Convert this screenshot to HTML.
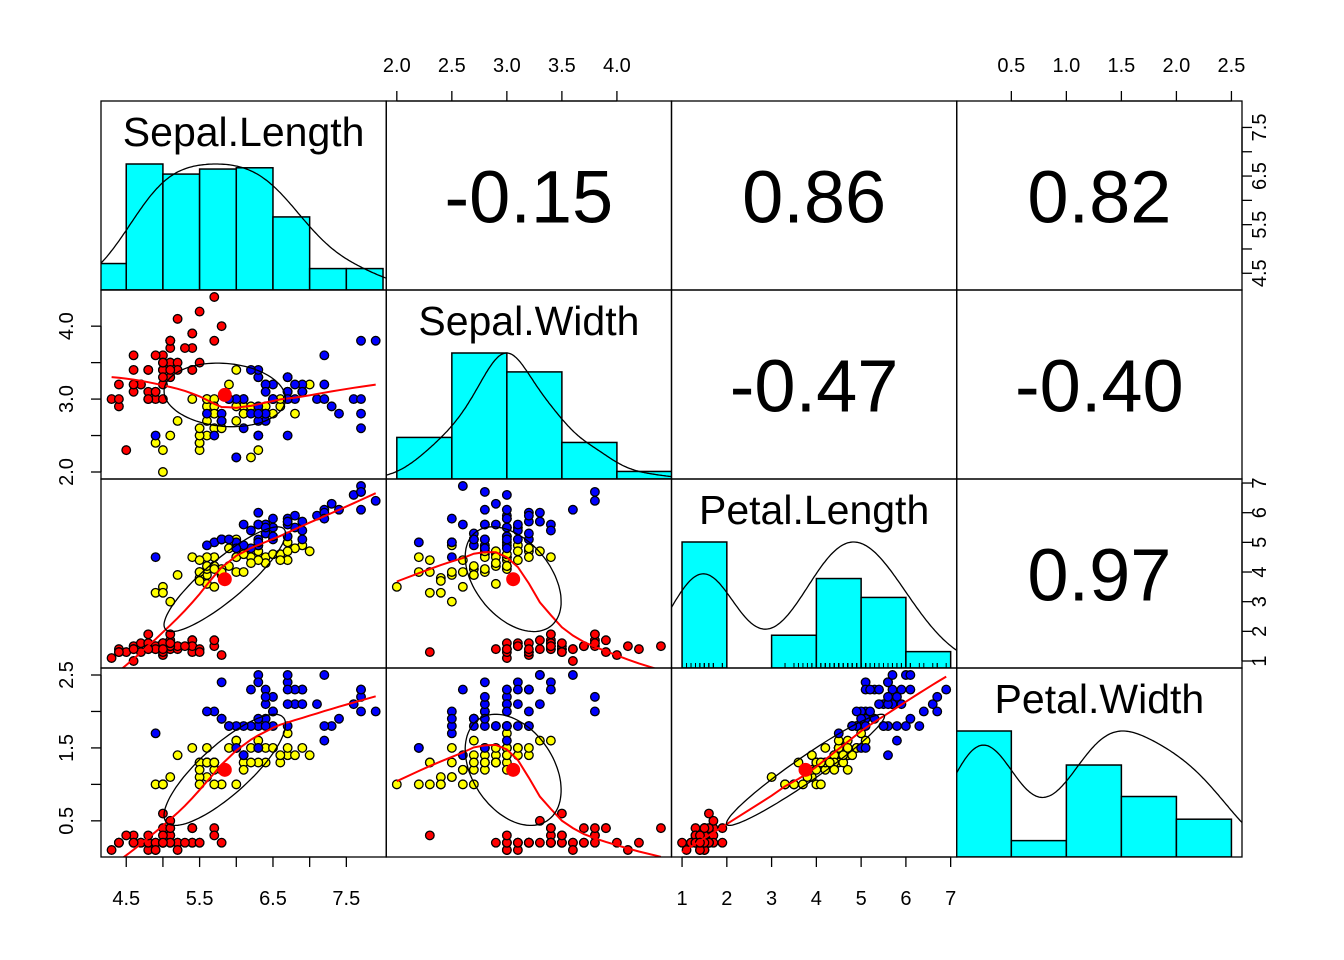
<!DOCTYPE html>
<html><head><meta charset="utf-8">
<style>
html,body{margin:0;padding:0;background:#fff;}
svg{display:block;font-family:"Liberation Sans",Arial,sans-serif;}
</style></head>
<body>
<svg id="chart" width="1344" height="960" viewBox="0 0 1344 960" xmlns="http://www.w3.org/2000/svg"></svg>
<script>
// ---- data (iris) ----
const sepalLength=[5.1,4.9,4.7,4.6,5.0,5.4,4.6,5.0,4.4,4.9,5.4,4.8,4.8,4.3,5.8,5.7,5.4,5.1,5.7,5.1,5.4,5.1,4.6,5.1,4.8,5.0,5.0,5.2,5.2,4.7,4.8,5.4,5.2,5.5,4.9,5.0,5.5,4.9,4.4,5.1,5.0,4.5,4.4,5.0,5.1,4.8,5.1,4.6,5.3,5.0,
7.0,6.4,6.9,5.5,6.5,5.7,6.3,4.9,6.6,5.2,5.0,5.9,6.0,6.1,5.6,6.7,5.6,5.8,6.2,5.6,5.9,6.1,6.3,6.1,6.4,6.6,6.8,6.7,6.0,5.7,5.5,5.5,5.8,6.0,5.4,6.0,6.7,6.3,5.6,5.5,5.5,6.1,5.8,5.0,5.6,5.7,5.7,6.2,5.1,5.7,
6.3,5.8,7.1,6.3,6.5,7.6,4.9,7.3,6.7,7.2,6.5,6.4,6.8,5.7,5.8,6.4,6.5,7.7,7.7,6.0,6.9,5.6,7.7,6.3,6.7,7.2,6.2,6.1,6.4,7.2,7.4,7.9,6.4,6.3,6.1,7.7,6.3,6.4,6.0,6.9,6.7,6.9,5.8,6.8,6.7,6.7,6.3,6.5,6.2,5.9];
const sepalWidth=[3.5,3.0,3.2,3.1,3.6,3.9,3.4,3.4,2.9,3.1,3.7,3.4,3.0,3.0,4.0,4.4,3.9,3.5,3.8,3.8,3.4,3.7,3.6,3.3,3.4,3.0,3.4,3.5,3.4,3.2,3.1,3.4,4.1,4.2,3.1,3.2,3.5,3.6,3.0,3.4,3.5,2.3,3.2,3.5,3.8,3.0,3.8,3.2,3.7,3.3,
3.2,3.2,3.1,2.3,2.8,2.8,3.3,2.4,2.9,2.7,2.0,3.0,2.2,2.9,2.9,3.1,3.0,2.7,2.2,2.5,3.2,2.8,2.5,2.8,2.9,3.0,2.8,3.0,2.9,2.6,2.4,2.4,2.7,2.7,3.0,3.4,3.1,2.3,3.0,2.5,2.6,3.0,2.6,2.3,2.7,3.0,2.9,2.9,2.5,2.8,
3.3,2.7,3.0,2.9,3.0,3.0,2.5,2.9,2.5,3.6,3.2,2.7,3.0,2.5,2.8,3.2,3.0,3.8,2.6,2.2,3.2,2.8,2.8,2.7,3.3,3.2,2.8,3.0,2.8,3.0,2.8,3.8,2.8,2.8,2.6,3.0,3.4,3.1,3.0,3.1,3.1,3.1,2.7,3.2,3.3,3.0,2.5,3.0,3.4,3.0];
const petalLength=[1.4,1.4,1.3,1.5,1.4,1.7,1.4,1.5,1.4,1.5,1.5,1.6,1.4,1.1,1.2,1.5,1.3,1.4,1.7,1.5,1.7,1.5,1.0,1.7,1.9,1.6,1.6,1.5,1.4,1.6,1.6,1.5,1.5,1.4,1.5,1.2,1.3,1.4,1.3,1.5,1.3,1.3,1.3,1.6,1.9,1.4,1.6,1.4,1.5,1.4,
4.7,4.5,4.9,4.0,4.6,4.5,4.7,3.3,4.6,3.9,3.5,4.2,4.0,4.7,3.6,4.4,4.5,4.1,4.5,3.9,4.8,4.0,4.9,4.7,4.3,4.4,4.8,5.0,4.5,3.5,3.8,3.7,3.9,5.1,4.5,4.5,4.7,4.4,4.1,4.0,4.4,4.6,4.0,3.3,4.2,4.2,4.2,4.3,3.0,4.1,
6.0,5.1,5.9,5.6,5.8,6.6,4.5,6.3,5.8,6.1,5.1,5.3,5.5,5.0,5.1,5.3,5.5,6.7,6.9,5.0,5.7,4.9,6.7,4.9,5.7,6.0,4.8,4.9,5.6,5.8,6.1,6.4,5.6,5.1,5.6,6.1,5.6,5.5,4.8,5.4,5.6,5.1,5.1,5.9,5.7,5.2,5.0,5.2,5.4,5.1];
const petalWidth=[0.2,0.2,0.2,0.2,0.2,0.4,0.3,0.2,0.2,0.1,0.2,0.2,0.1,0.1,0.2,0.4,0.4,0.3,0.3,0.3,0.2,0.4,0.2,0.5,0.2,0.2,0.4,0.2,0.2,0.2,0.2,0.4,0.1,0.2,0.2,0.2,0.2,0.1,0.2,0.2,0.3,0.3,0.2,0.6,0.4,0.3,0.2,0.2,0.2,0.2,
1.4,1.5,1.5,1.3,1.5,1.3,1.6,1.0,1.3,1.4,1.0,1.5,1.0,1.4,1.3,1.4,1.5,1.0,1.5,1.1,1.8,1.3,1.5,1.2,1.3,1.4,1.4,1.7,1.5,1.0,1.1,1.0,1.2,1.6,1.5,1.6,1.5,1.3,1.3,1.3,1.2,1.4,1.2,1.0,1.3,1.2,1.3,1.3,1.1,1.3,
2.5,1.9,2.1,1.8,2.2,2.1,1.7,1.8,1.8,2.5,2.0,1.9,2.1,2.0,2.4,2.3,1.8,2.2,2.3,1.5,2.3,2.0,2.0,1.8,2.1,1.8,1.8,1.8,2.1,1.6,1.9,2.0,2.2,1.5,1.4,2.3,2.4,1.8,1.8,2.1,2.4,2.3,1.9,2.3,2.5,2.3,1.9,2.0,2.3,1.8];
const speciesColors=["#FF0000","#FFFF00","#0000FF"];
const varNames=["Sepal.Length","Sepal.Width","Petal.Length","Petal.Width"];
const correlations=[["-0.15","0.86","0.82"],["-0.47","-0.40"],["0.97"]];
// histogram breaks and relative bar heights (max = 1)
const histBreaks=[[4,4.5,5,5.5,6,6.5,7,7.5,8],[2,2.5,3,3.5,4,4.5],[1,2,3,4,5,6,7],[0,0.5,1,1.5,2,2.5]];
const histHeights=[[0.21,1.0,0.92,0.96,0.97,0.58,0.17,0.17],[0.33,1.0,0.85,0.29,0.06],[1.0,0,0.26,0.71,0.56,0.13],[1.0,0.13,0.73,0.48,0.30]];
// axis ticks
const tickSL=[4.5,5,5.5,6,6.5,7,7.5], labSL=[4.5,5.5,6.5,7.5];
const tickSW=[2,2.5,3,3.5,4];
const tickPL=[1,2,3,4,5,6,7];
const tickPW=[0.5,1,1.5,2,2.5];
const bwAdjust=[1.6,1.4,1.25,1.2];

const vars=[sepalLength,sepalWidth,petalLength,petalWidth];
const N=150;
const svg=document.getElementById('chart');
const NS="http://www.w3.org/2000/svg";
function mk(tag,attrs,parent){const e=document.createElementNS(NS,tag);for(const k in attrs)e.setAttribute(k,attrs[k]);(parent||svg).appendChild(e);return e;}
const PX0=101,PY0=101,PW=285.25,PH=189;
const ranges=vars.map(v=>{const mn=Math.min(...v),mx=Math.max(...v),p=(mx-mn)*0.04;return[mn-p,mx+p];});
function sx(vi,col,val){const r=ranges[vi];return PX0+col*PW+(val-r[0])/(r[1]-r[0])*PW;}
function sy(vi,row,val){const r=ranges[vi];return PY0+(row+1)*PH-(val-r[0])/(r[1]-r[0])*PH;}
const mean=a=>a.reduce((s,x)=>s+x,0)/a.length;
const sd=a=>{const m=mean(a);return Math.sqrt(a.reduce((s,x)=>s+(x-m)*(x-m),0)/(a.length-1));};
function corr(a,b){const ma=mean(a),mb=mean(b);let s=0;for(let i=0;i<a.length;i++)s+=(a[i]-ma)*(b[i]-mb);return s/(a.length-1)/sd(a)/sd(b);}

function lowess(x,y,f=2/3,iter=3){
  const idx=x.map((v,i)=>i).sort((a,b)=>x[a]-x[b]);
  const xs=idx.map(i=>x[i]),ys=idx.map(i=>y[i]);const n=xs.length;
  const ns=Math.max(2,Math.min(n,Math.floor(f*n+1e-7)));
  let rw=new Array(n).fill(1),fit=new Array(n).fill(0);
  for(let it=0;it<=iter;it++){
    for(let i=0;i<n;i++){
      const d=xs.map(v=>Math.abs(v-xs[i]));const sd2=d.slice().sort((a,b)=>a-b);
      let h=sd2[ns-1];if(h<=0)h=1e-9;
      let sw=0,swx=0,swy=0,swxx=0,swxy=0;
      for(let j=0;j<n;j++){let u=d[j]/h;let w=0;if(u<0.999){w=Math.pow(1-u*u*u,3);}w*=rw[j];
        sw+=w;swx+=w*xs[j];swy+=w*ys[j];swxx+=w*xs[j]*xs[j];swxy+=w*xs[j]*ys[j];}
      if(sw<=0){fit[i]=ys[i];continue;}
      const mx=swx/sw,my=swy/sw,vx=swxx/sw-mx*mx;
      if(vx>1e-12*(h*h)){const b=(swxy/sw-mx*my)/vx;fit[i]=my+b*(xs[i]-mx);}else fit[i]=my;
    }
    if(it===iter)break;
    const res=ys.map((v,i)=>v-fit[i]);const ar=res.map(Math.abs).sort((a,b)=>a-b);
    const m=n%2?ar[(n-1)/2]:(ar[n/2-1]+ar[n/2])/2;const c=6*m;if(c<1e-12)break;
    rw=res.map(r=>{const u=Math.abs(r)/c;return u<1?Math.pow(1-u*u,2):0;});
  }
  return {x:xs,y:fit};
}
function kde(v,adj){
  const s=sd(v);const so=v.slice().sort((a,b)=>a-b);
  const q=p=>{const h=(so.length-1)*p,l=Math.floor(h);return so[l]+(h-l)*(so[Math.min(l+1,so.length-1)]-so[l]);};
  const iqr=q(0.75)-q(0.25);const bw=adj*0.9*Math.min(s,iqr/1.34)*Math.pow(v.length,-0.2);
  const lo=so[0]-3*bw,hi=so[so.length-1]+3*bw;const xs=[],ys=[];
  for(let i=0;i<=300;i++){const x=lo+(hi-lo)*i/300;let d=0;for(const t of v){const z=(x-t)/bw;d+=Math.exp(-0.5*z*z);}xs.push(x);ys.push(d);}
  const m=Math.max(...ys);return {x:xs,y:ys.map(d=>d/m)};
}

for(let r=0;r<4;r++)for(let c=0;c<4;c++){
  const cp=mk('clipPath',{id:`cp${r}${c}`});
  mk('rect',{x:PX0+c*PW,y:PY0+r*PH,width:PW,height:PH},cp);
}

for(let r=0;r<4;r++)for(let c=0;c<4;c++){
  const g=mk('g',{'clip-path':`url(#cp${r}${c})`});
  
  
  const x0=PX0+c*PW,y0=PY0+r*PH;
  if(r===c){
    const v=vars[r];const br=histBreaks[r],hh=histHeights[r];
    const base=y0+PH;
    hh.forEach((h,i)=>{
      if(h<=0)return;
      const xa=sx(r,c,br[i]),xb=sx(r,c,br[i+1]);const yt=base-h/1.5*PH;
      const b=mk('rect',{x:xa,y:yt,width:xb-xa,height:base-yt,fill:'#00FFFF',stroke:'#000','stroke-width':1.5},g);
      
      
    });
    if(r===2){
      v.forEach(t=>{const xx=sx(r,c,t);const l=mk('line',{x1:xx,x2:xx,y1:base,y2:base-5,stroke:'#000','stroke-width':1},g);
        
        });
    }
    const d=kde(v,bwAdjust[r]);
    const pts=d.x.map((x,i)=>`${sx(r,c,x).toFixed(1)},${(base-d.y[i]/1.5*PH).toFixed(1)}`).join(' ');
    const pl=mk('polyline',{points:pts,fill:'none',stroke:'#000','stroke-width':1.3},g);
    
    
    const t=mk('text',{x:x0+PW/2,y:y0+45,'text-anchor':'middle','font-size':41,fill:'#000'},g);
    t.textContent=varNames[r];
    
    
  } else if(c>r){
    const t=mk('text',{x:x0+PW/2,y:y0+PH/2+27,'text-anchor':'middle','font-size':74,fill:'#000'},g);
    t.textContent=correlations[r][c-r-1];
    
    
  } else {
    const xv=vars[c],yv=vars[r];
    for(let i=0;i<N;i++){
      const p=mk('circle',{cx:sx(c,c,xv[i]),cy:sy(r,r,yv[i]),r:4.3,fill:speciesColors[Math.floor(i/50)],stroke:'#000','stroke-width':1.3},g);
      
      
    }
    const lw=lowess(xv,yv);
    const lp=mk('polyline',{points:lw.x.map((x,i)=>`${sx(c,c,x).toFixed(1)},${sy(r,r,lw.y[i]).toFixed(1)}`).join(' '),fill:'none',stroke:'#FF0000','stroke-width':2},g);
    
    
    const xm=mean(xv),ym=mean(yv),xs=sd(xv),ys=sd(yv),rr=corr(xv,yv);
    const th=(rr>=0?1:-1)/Math.SQRT2,a=Math.sqrt(1+rr),b=Math.sqrt(1-rr),rad=1.0;
    const ep=[];for(let k=0;k<=100;k++){const t=k*2*Math.PI/100;const ex=Math.cos(t)*a*th-Math.sin(t)*b*th,ey=Math.cos(t)*a*th+Math.sin(t)*b*th;
      ep.push(`${sx(c,c,xm+ex*xs*rad).toFixed(1)},${sy(r,r,ym+ey*ys*rad).toFixed(1)}`);}
    const el=mk('polyline',{points:ep.join(' '),fill:'none',stroke:'#000','stroke-width':1.3},g);
    
    
    const mp=mk('circle',{cx:sx(c,c,xm),cy:sy(r,r,ym),r:7,fill:'#FF0000'},g);
    
    
  }
  const bd=mk('rect',{x:x0,y:y0,width:PW,height:PH,fill:'none',stroke:'#000','stroke-width':1.3});
  
  
}

function fmt(v,dec){return v.toFixed(dec);}
function hAxis(vi,col,ticks,labels,top,dec){
  const g=mk('g',{});
  
  
  const y=top?PY0:PY0+4*PH;const dir=top?-1:1;
  mk('line',{x1:sx(vi,col,ticks[0]),x2:sx(vi,col,ticks[ticks.length-1]),y1:y,y2:y,stroke:'#000','stroke-width':1.3},g);
  ticks.forEach(t=>{const x=sx(vi,col,t);mk('line',{x1:x,x2:x,y1:y,y2:y+dir*10,stroke:'#000','stroke-width':1.3},g);});
  labels.forEach(t=>{const tx=mk('text',{x:sx(vi,col,t),y:top?y-29:y+48,'text-anchor':'middle','font-size':20},g);tx.textContent=fmt(t,dec);
    
    });
}
function vAxis(vi,row,ticks,labels,right,dec){
  const g=mk('g',{});
  
  
  const x=right?PX0+4*PW:PX0;const dir=right?1:-1;
  mk('line',{x1:x,x2:x,y1:sy(vi,row,ticks[0]),y2:sy(vi,row,ticks[ticks.length-1]),stroke:'#000','stroke-width':1.3},g);
  ticks.forEach(t=>{const y=sy(vi,row,t);mk('line',{x1:x,x2:x+dir*10,y1:y,y2:y,stroke:'#000','stroke-width':1.3},g);});
  labels.forEach(t=>{const y=sy(vi,row,t);const bx=right?x+24:x-28;
    const tx=mk('text',{x:bx,y:y,'text-anchor':'middle','font-size':20,transform:`rotate(-90 ${bx} ${y})`},g);
    tx.textContent=fmt(t,dec);
    
    });
}
hAxis(1,1,tickSW,tickSW,true,1);
hAxis(3,3,tickPW,tickPW,true,1);
hAxis(0,0,tickSL,labSL,false,1);
hAxis(2,2,tickPL,tickPL,false,0);
vAxis(0,0,tickSL,labSL,true,1);
vAxis(2,2,tickPL,tickPL,true,0);
vAxis(1,1,tickSW,[2,3,4],false,1);
vAxis(3,3,tickPW,[0.5,1.5,2.5],false,1);
</script>
</body></html>
